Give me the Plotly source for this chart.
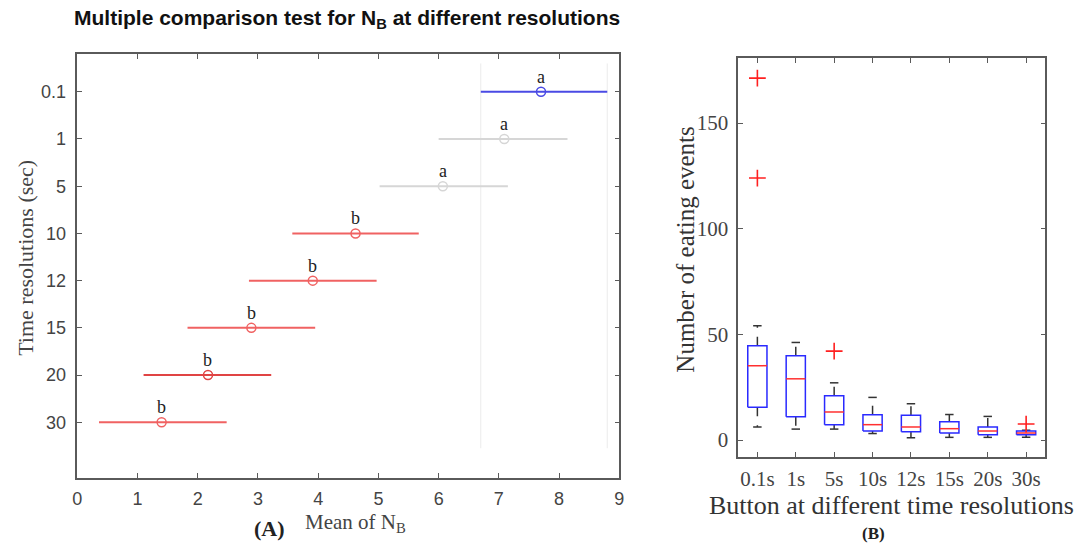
import plotly.graph_objects as go

W, H = 1085, 543

# ---- Panel A data: multiple comparison ----
groups = ["0.1", "1", "5", "10", "12", "15", "20", "30"]
means = [7.70, 7.09, 6.07, 4.62, 3.91, 2.89, 2.17, 1.40]
lower = [6.70, 6.00, 5.02, 3.57, 2.85, 1.83, 1.10, 0.36]
upper = [8.80, 8.14, 7.15, 5.67, 4.97, 3.95, 3.22, 2.48]
letters = ["a", "a", "a", "b", "b", "b", "b", "b"]
colors = ["#4a4ae4", "#d6d6d6", "#d6d6d6", "#f06262", "#f06262", "#f06262", "#e04444", "#f06262"]

# ---- Panel B data: boxplot summary ----
box_labels = ["0.1s", "1s", "5s", "10s", "12s", "15s", "20s", "30s"]
whisk_lo = [6.2, 5.2, 5.2, 3.1, 1.1, 1.3, 1.3, 1.3]
q1 = [15.6, 11.0, 7.3, 4.3, 3.9, 3.3, 2.5, 2.5]
med = [35.2, 29.0, 13.3, 7.3, 6.2, 5.4, 4.3, 3.3]
q3 = [44.6, 39.9, 21.0, 12.0, 11.8, 8.7, 6.2, 4.3]
whisk_hi = [54.1, 46.2, 27.1, 20.2, 17.2, 12.1, 11.2, 4.6]
outlier_group = [1, 1, 3, 8]
outlier_val = [171.3, 124.0, 42.1, 7.6]

SANS = "Liberation Sans, Arial, sans-serif"
SERIF = "Liberation Serif, Times New Roman, serif"
AX = "#5a5a5a"
TXT = "#444444"

fig = go.Figure()

# reference lines for the selected group (first group's interval)
ypos = list(range(1, len(groups) + 1))
fig.add_trace(go.Scatter(
    x=[lower[0], lower[0], None, upper[0], upper[0]],
    y=[0.4, 8.55, None, 0.4, 8.55],
    mode="lines", line=dict(color="#ebebeb", width=1),
    xaxis="x", yaxis="y", hoverinfo="skip", showlegend=False))

for i, g in enumerate(groups):
    fig.add_trace(go.Scatter(
        x=[lower[i], upper[i]], y=[ypos[i], ypos[i]], mode="lines",
        line=dict(color=colors[i], width=2), xaxis="x", yaxis="y", showlegend=False))
    fig.add_trace(go.Scatter(
        x=[means[i]], y=[ypos[i]], mode="markers",
        marker=dict(symbol="circle-open", size=9, color=colors[i], line=dict(width=1.5)),
        xaxis="x", yaxis="y", showlegend=False))

annotations = []
for i, g in enumerate(groups):
    annotations.append(dict(
        x=means[i], y=ypos[i], xref="x", yref="y", text=letters[i], showarrow=False,
        xanchor="center", yshift=15, font=dict(family=SERIF, size=18, color="#222")))

# ---- Panel B traces ----
bpos = list(range(1, len(box_labels) + 1))
bw = 0.25
cw = 0.11
wx, wy, cx, cy, rx, ry, mx, my = [], [], [], [], [], [], [], []
for i, p in enumerate(bpos):
    wx += [p, p, None, p, p, None]
    wy += [q3[i], whisk_hi[i], None, q1[i], whisk_lo[i], None]
    cx += [p - cw, p + cw, None, p - cw, p + cw, None]
    cy += [whisk_hi[i], whisk_hi[i], None, whisk_lo[i], whisk_lo[i], None]
    rx += [p - bw, p + bw, p + bw, p - bw, p - bw, None]
    ry += [q1[i], q1[i], q3[i], q3[i], q1[i], None]
    mx += [p - bw, p + bw, None]
    my += [med[i], med[i], None]

fig.add_trace(go.Scatter(x=wx, y=wy, mode="lines", line=dict(color="#333", width=1.5, dash="dash"),
                         xaxis="x2", yaxis="y2", showlegend=False))
fig.add_trace(go.Scatter(x=cx, y=cy, mode="lines", line=dict(color="#333", width=1.5),
                         xaxis="x2", yaxis="y2", showlegend=False))
fig.add_trace(go.Scatter(x=rx, y=ry, mode="lines", line=dict(color="#2a2aff", width=1.5),
                         xaxis="x2", yaxis="y2", showlegend=False))
fig.add_trace(go.Scatter(x=mx, y=my, mode="lines", line=dict(color="#ff3030", width=1.5),
                         xaxis="x2", yaxis="y2", showlegend=False))
fig.add_trace(go.Scatter(x=outlier_group, y=outlier_val, mode="markers",
                         marker=dict(symbol="cross-thin", size=12, line=dict(color="#ff2020", width=1.6)),
                         xaxis="x2", yaxis="y2", showlegend=False))

def px(x):
    return x / W

def py(y):
    return 1 - y / H

def note(x, y, text, font, angle=0):
    return dict(x=px(x), y=py(y), xref="paper", yref="paper", showarrow=False,
                xanchor="center", yanchor="middle", textangle=angle, text=text, font=font)

annotations += [
    note(345, 19, "<b>Multiple comparison test for N<sub>B</sub> at different resolutions</b>",
         dict(family=SANS, size=21, color="#111")),
    note(20, 258, "Time resolutions (sec)", dict(family=SERIF, size=22, color=TXT), -90),
    note(354, 523, "Mean of N<sub>B</sub>", dict(family=SERIF, size=21, color=TXT)),
    note(267, 528, "<b>(A)</b>", dict(family=SERIF, size=22, color="#222")),
    note(687, 250, "Number of eating events", dict(family=SERIF, size=25, color="#333"), -90),
    note(895, 505, "Button at different time resolutions", dict(family=SERIF, size=26, color="#333")),
    note(877, 533, "<b>(B)</b>", dict(family=SERIF, size=17, color="#222")),
]

axis_common = dict(showline=True, linecolor=AX, linewidth=1.5, mirror="ticks", ticks="inside",
                   ticklen=5, tickcolor=AX, tickwidth=1, showgrid=False, zeroline=False)

fig.update_layout(
    width=W, height=H, margin=dict(l=0, r=0, t=0, b=0),
    paper_bgcolor="white", plot_bgcolor="white", showlegend=False,
    xaxis=dict(domain=[px(73), px(620)], range=[0, 9], tickvals=list(range(10)),
               tickfont=dict(family=SANS, size=18, color=TXT), anchor="y",
               ticklabelstandoff=4, **axis_common),
    yaxis=dict(domain=[py(478), py(54)], range=[9.18, 0.2], tickvals=ypos, ticktext=groups,
               tickfont=dict(family=SANS, size=18, color=TXT), anchor="x",
               ticklabelstandoff=6, **axis_common),
    xaxis2=dict(domain=[px(740), px(1050)], range=[0.5, 8.5], tickvals=bpos, ticktext=box_labels,
                tickfont=dict(family=SERIF, size=21, color=TXT), anchor="y2",
                ticklabelstandoff=2, **axis_common),
    yaxis2=dict(domain=[py(457), py(58)], range=[-8, 180.8], tickvals=[0, 50, 100, 150],
                tickfont=dict(family=SERIF, size=21, color=TXT), anchor="x2",
                ticklabelstandoff=4, **axis_common),
    annotations=annotations,
)

fig.write_html("out.html")
